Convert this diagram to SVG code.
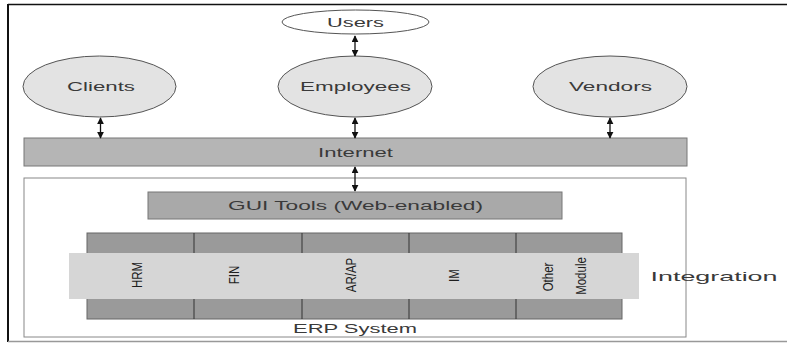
<svg xmlns="http://www.w3.org/2000/svg" width="787" height="343" viewBox="0 0 787 343">
<style>
.lbl{font-family:"Liberation Sans",Arial,sans-serif;font-size:12px;fill:#3a3a3a;text-anchor:middle;}
.mod{font-family:"Liberation Sans",Arial,sans-serif;font-size:14px;fill:#1e1e1e;text-anchor:middle;}
.ell{fill:#e3e3e3;stroke:#555;stroke-width:1;}
.conn{stroke:#111;stroke-width:1.3;fill:none;marker-start:url(#ah);marker-end:url(#ah);}
</style>
<defs>
<marker id="ah" viewBox="0 0 10 10" refX="9" refY="5" markerWidth="7" markerHeight="7" markerUnits="userSpaceOnUse" orient="auto-start-reverse">
<path d="M0,0 L10,5 L0,10 z" fill="#111"/>
</marker>
</defs>
<rect x="0" y="0" width="787" height="343" fill="#fff"/>
<g id="frame">
<line x1="8" y1="4.5" x2="787" y2="4.5" stroke="#111" stroke-width="1.5"/>
<line x1="8" y1="4" x2="8" y2="342" stroke="#111" stroke-width="2"/>
<line x1="8" y1="341.5" x2="787" y2="341.5" stroke="#999" stroke-width="1.5"/>
</g>
<g id="users">
<ellipse cx="355.5" cy="22" rx="73.5" ry="12" fill="#fff" stroke="#555" stroke-width="1"/>
<text class="lbl" x="355.5" y="26.5" textLength="57" lengthAdjust="spacingAndGlyphs">Users</text>
</g>
<g id="clients">
<ellipse class="ell" cx="99.5" cy="86.5" rx="76.5" ry="30.5"/>
<text class="lbl" x="101" y="91" textLength="68" lengthAdjust="spacingAndGlyphs">Clients</text>
</g>
<g id="employees">
<ellipse class="ell" cx="355" cy="86.5" rx="77" ry="30.5"/>
<text class="lbl" x="355.5" y="91" textLength="111" lengthAdjust="spacingAndGlyphs">Employees</text>
</g>
<g id="vendors">
<ellipse class="ell" cx="610" cy="86.5" rx="77" ry="30.5"/>
<text class="lbl" x="610.5" y="91" textLength="83" lengthAdjust="spacingAndGlyphs">Vendors</text>
</g>
<g id="internet">
<rect x="24" y="138" width="663" height="28" fill="#b5b5b5" stroke="#777" stroke-width="1"/>
<text class="lbl" x="355.5" y="156.5" textLength="75" lengthAdjust="spacingAndGlyphs">Internet</text>
</g>
<g id="erp">
<rect x="24" y="178" width="662" height="159" fill="#fff" stroke="#888" stroke-width="1"/>
<text class="lbl" x="355" y="333" textLength="124" lengthAdjust="spacingAndGlyphs">ERP System</text>
</g>
<g id="gui">
<rect x="148" y="192" width="414" height="27" fill="#a9a9a9" stroke="#777" stroke-width="1"/>
<text class="lbl" x="355.5" y="209.5" textLength="255" lengthAdjust="spacingAndGlyphs">GUI Tools (Web-enabled)</text>
</g>
<g id="modules">
<rect x="87" y="233" width="535" height="86" fill="#9a9a9a" stroke="#666" stroke-width="1"/>
<g stroke="#333" stroke-width="1">
<line x1="194" y1="233" x2="194" y2="319"/>
<line x1="302" y1="233" x2="302" y2="319"/>
<line x1="409" y1="233" x2="409" y2="319"/>
<line x1="516" y1="233" x2="516" y2="319"/>
</g>
</g>
<g id="integration">
<rect x="69" y="253" width="570" height="46" fill="#d6d6d6"/>
<text class="lbl" x="714" y="281" textLength="127" lengthAdjust="spacingAndGlyphs" style="font-size:13px">Integration</text>
</g>
<g id="hrm"><text class="mod" transform="translate(141.5,275) rotate(-90) scale(0.82,1)">HRM</text></g>
<g id="fin"><text class="mod" transform="translate(238.5,275) rotate(-90) scale(0.82,1)">FIN</text></g>
<g id="arap"><text class="mod" transform="translate(356,275) rotate(-90) scale(0.82,1)">AR/AP</text></g>
<g id="im"><text class="mod" transform="translate(459,275.5) rotate(-90) scale(0.82,1)">IM</text></g>
<g id="other"><text class="mod" transform="translate(553,277) rotate(-90) scale(0.82,1)">Other</text></g>
<g id="module"><text class="mod" transform="translate(585.5,276) rotate(-90) scale(0.82,1)">Module</text></g>
<g id="connectors">
<line class="conn" x1="355" y1="36" x2="355" y2="56"/>
<line class="conn" x1="100.5" y1="118" x2="100.5" y2="138"/>
<line class="conn" x1="355" y1="118" x2="355" y2="138"/>
<line class="conn" x1="610" y1="118" x2="610" y2="138"/>
<line class="conn" x1="355" y1="167" x2="355" y2="191"/>
</g>
</svg>
